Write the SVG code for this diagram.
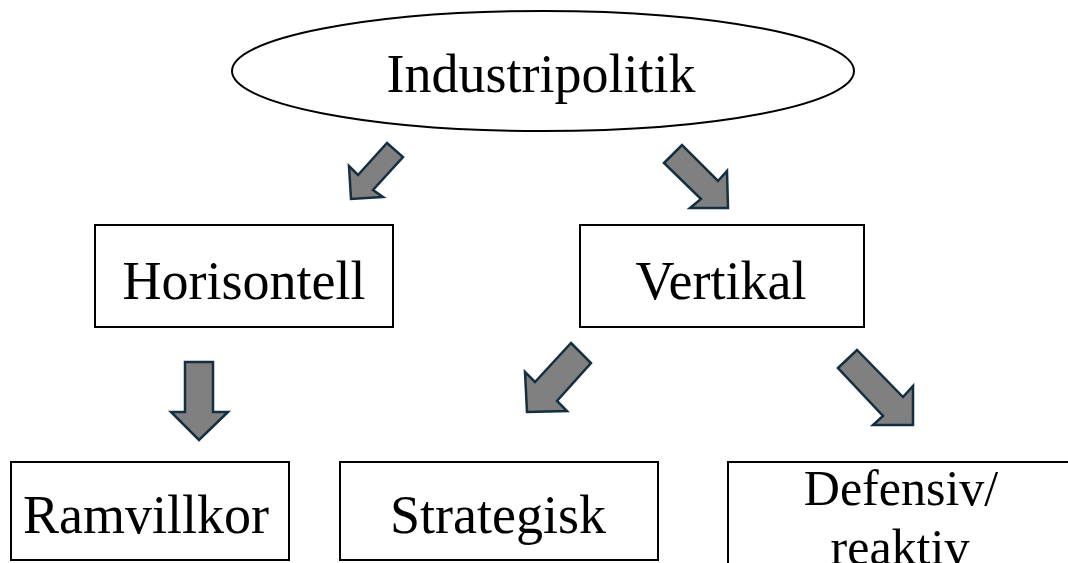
<svg xmlns="http://www.w3.org/2000/svg" width="1068" height="563" viewBox="0 0 1068 563">
<style>
.box{fill:#fff;stroke:#000;stroke-width:2}
.t{font-family:"Liberation Serif","Times New Roman",serif;font-size:54px;fill:#000;text-anchor:middle}
.arr{fill:#808080;stroke:#132f40;stroke-width:2.5;stroke-linejoin:miter}
</style>
<rect width="1068" height="563" fill="#fff"/>
<g id="industripolitik">
<ellipse class="box" cx="543" cy="71" rx="311" ry="60"/>
<text class="t" x="541" y="92">Industripolitik</text>
</g>
<g id="horisontell">
<rect class="box" x="95" y="225" width="298" height="102"/>
<text class="t" x="244" y="299">Horisontell</text>
</g>
<g id="vertikal">
<rect class="box" x="580" y="225" width="284" height="102"/>
<text class="t" x="721" y="299">Vertikal</text>
</g>
<g id="ramvillkor">
<rect class="box" x="11" y="462" width="278" height="98"/>
<text class="t" x="146" y="533">Ramvillkor</text>
</g>
<g id="strategisk">
<rect class="box" x="340" y="462" width="318" height="98"/>
<text class="t" x="498" y="533">Strategisk</text>
</g>
<g id="defensiv">
<rect class="box" x="728" y="462" width="360" height="120"/>
<text class="t" x="901" y="505" style="font-size:50px">Defensiv/</text>
<text class="t" x="900" y="564" style="font-size:50px">reaktiv</text>
</g>
<g id="connectors">
<polygon class="arr" points="387,143 403,157 373,190 383,197 351,199 349,166 358,175"/>
<polygon class="arr" points="664,163 682,145 718,181 727,171 728,208 690,208 701,199"/>
<polygon class="arr" points="185,362 213,362 213,412 228,412 199,440 171,412 185,412"/>
<polygon class="arr" points="571,343 591,363 557,401 567,411 527,412 525,372 535,382"/>
<polygon class="arr" points="838,368 857,350 903,397 913,386 913,425 873,425 883,416"/>
</g>
</svg>
